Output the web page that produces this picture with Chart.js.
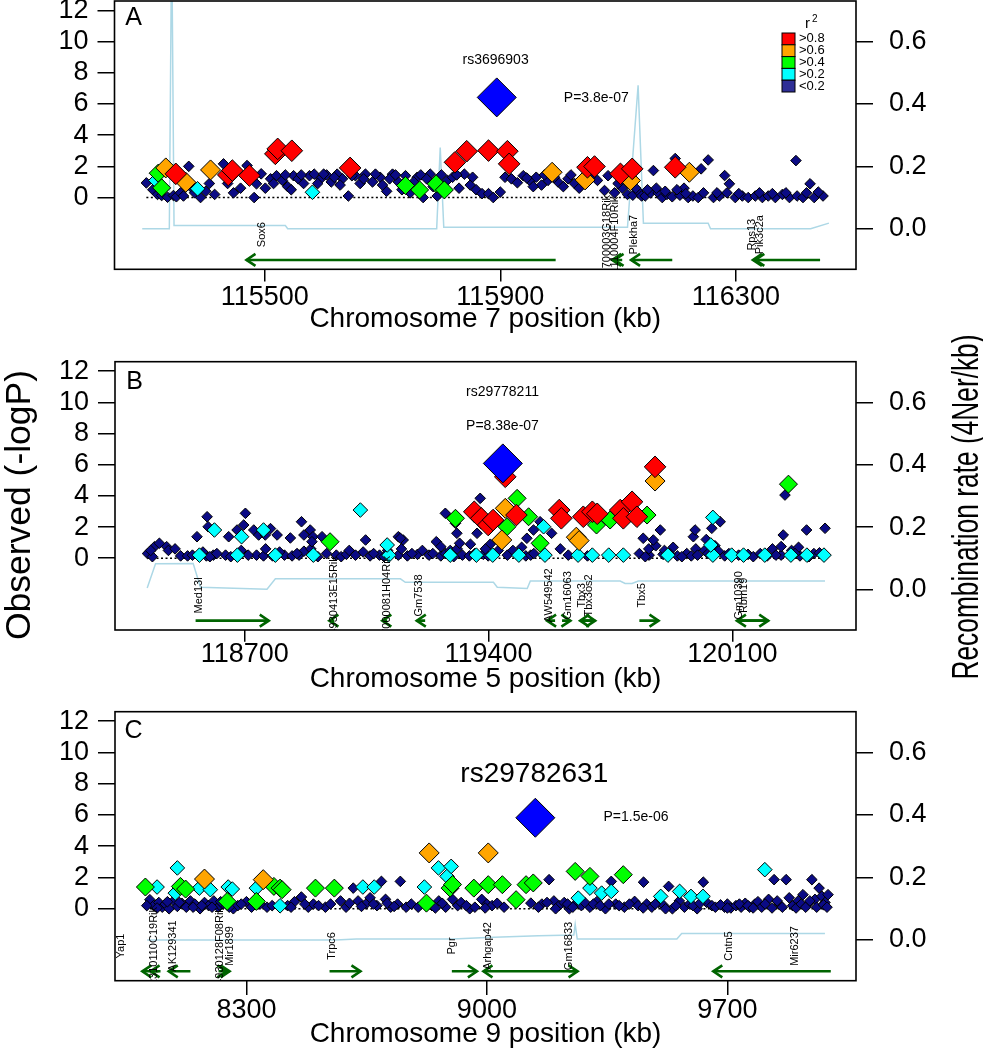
<!DOCTYPE html>
<html><head><meta charset="utf-8">
<script src="https://cdn.jsdelivr.net/npm/chart.js@4.4.1/dist/chart.umd.min.js"></script>
<style>
html,body{margin:0;padding:0;background:#fff;}
#fig{position:relative;width:983px;height:1050px;overflow:hidden;background:#fff;}
#fig canvas{position:absolute;left:0;}
</style></head><body><div id="fig">
<canvas id="cA" width="983" height="340" style="top:0px;width:983px;height:340px"></canvas>
<canvas id="cB" width="983" height="370" style="top:330px;width:983px;height:370px"></canvas>
<canvas id="cC" width="983" height="355" style="top:695px;width:983px;height:355px"></canvas>
</div>
<script>
const FONT = '"Liberation Sans", Arial, Helvetica, sans-serif';

// ---------- shared tick / legend values ----------
const yTicks = [0, 2, 4, 6, 8, 10, 12];
const recTicks = [0, 0.2, 0.4, 0.6];
const ldLabels = ['>0.8', '>0.6', '>0.4', '>0.2', '<0.2'];

// ---------- Panel A : Chromosome 7 ----------
const A_xTicks = [115500, 115900, 116300];
const A_lead = [115894, 6.42];
const A_lt02 = [[115299,0.94],[115310,0.5],[115318,0.2],[115325,0.13],[115330,0.6],[115335,0.02],[115345,0.13],[115350,0.05],[115357,0.3],[115362,0.1],[115371,2.0],[115374,0.7],[115381,0.3],[115391,0.0],[115400,0.4],[115406,0.9],[115415,0.2],[115430,2.16],[115437,0.9],[115447,0.3],[115459,0.6],[115470,2.05],[115482,0.0],[115486,0.88],[115494,1.52],[115501,0.6],[115510,1.2],[115520,1.4],[115530,1.1],[115539,0.7],[115549,1.4],[115557,1.2],[115566,0.9],[115576,1.4],[115584,1.5],[115595,1.2],[115605,1.45],[115613,1.0],[115623,1.5],[115632,1.2],[115642,0.1],[115654,1.4],[115662,0.9],[115671,1.5],[115683,1.0],[115696,1.3],[115707,0.4],[115717,1.5],[115727,1.0],[115739,1.4],[115747,0.3],[115759,1.3],[115769,0.0],[115781,1.5],[115793,0.1],[115810,1.1],[115819,1.3],[115830,0.6],[115839,1.5],[115849,0.8],[115859,0.5],[115869,0.25],[115880,0.25],[115888,0.0],[115900,0.35],[115908,1.3],[115919,1.2],[115929,0.95],[115939,1.4],[115951,1.05],[115961,1.3],[115970,0.8],[115981,1.1],[115998,1.0],[116007,0.7],[116015,1.2],[116026,0.9],[116034,0.6],[116053,1.3],[116077,0.45],[116083,1.4],[116094,0.3],[116107,0.6],[116116,0.2],[116125,0.15],[116134,0.4],[116140,0.1],[116146,0.1],[116155,0.3],[116160,1.73],[116168,0.3],[116175,0.0],[116183,0.2],[116192,0.05],[116197,2.5],[116205,0.15],[116212,0.6],[116219,0.0],[116227,0.1],[116236,0.0],[116241,1.84],[116253,2.41],[116262,0.0],[116272,0.1],[116281,1.41],[116289,0.88],[116299,0.0],[116311,0.1],[116321,0.0],[116333,0.1],[116345,0.0],[116355,0.1],[116367,0.0],[116379,0.2],[116391,0.0],[116402,2.37],[116404,0.1],[116414,0.0],[116426,0.88],[116433,0.0],[116448,0.1],
 [115515,0.9],[115535,1.45],[115545,0.5],[115562,1.45],[115590,0.9],[115600,1.5],[115618,1.3],[115628,0.8],[115648,1.4],[115668,1.2],[115688,1.5],[115700,0.8],[115712,1.2],[115722,1.45],[115733,0.5],[115753,1.0],[115765,1.45],[115775,1.2],[115786,0.7],[115800,1.45],[115826,1.45],[115853,1.3],[115945,1.25],[115956,0.7],[115975,1.45],[115992,1.3],[116020,1.45],[116040,1.0],[116065,1.1],[116100,0.9],[116130,0.6],[116150,0.5],[116165,0.6],[116180,0.4],[116200,0.5],[116215,0.25],[116245,0.3],[116268,0.3],[116285,0.3],[116305,0.25],[116340,0.3],[116362,0.25],[116385,0.3],[116420,0.3],[116440,0.35]];
const A_02 = [[115315,1.09],[115386,0.56],[115581,0.34]];
const A_04 = [[115319,1.56],[115325,0.62],[115739,0.77],[115763,0.49],[115791,0.88],[115805,0.49]];
const A_06 = [[115332,1.9],[115366,0.98],[115408,1.77],[115988,1.62],[116044,1.13],[116121,1.09],[116221,1.62]];
const A_08 = [[115349,1.52],[115438,1.45],[115445,1.73],[115474,1.41],[115518,2.8],[115522,3.12],[115546,3.0],[115645,1.9],[115823,2.26],[115843,2.97],[115880,3.01],[115912,2.97],[115915,2.16],[116048,1.94],[116060,1.99],[116104,1.52],[116124,1.84],[116197,1.94]];
const A_recPos  = [115292,115338,115342,115346,115535,115539,115792,115798,115804,116116,116134,116143,116253,116257,116427,116458];
const A_recRate = [0.0,0.0,0.95,0.01,0.01,0.0,0.0,0.26,0.005,0.005,0.46,0.018,0.018,0.0,0.0,0.018];
const A_geneName   = ['Sox6','1700003G18Rik','1110004F10Rik','Plekha7','Rps13','Pik3c2a'];
const A_geneStart  = [115469,116090,116094,116122,116329,116333];
const A_geneEnd    = [115994,116100,116107,116192,116338,116443];
const A_geneStrand = [-1,-1,-1,-1,-1,-1];
const A_geneLabel  = [115496,116081,116095,116127,116328,116341];
const A_annotText = ['rs3696903','P=3.8e-07'];
const A_annotX = [115892,116063];
const A_annotY = [8.83,6.39];

// ---------- Panel B : Chromosome 5 ----------
const B_xTicks = [118700, 119400, 120100];
const B_lead = [119441, 6.08];
const B_lt02 = [[118421,0.3],[118435,0.1],[118441,0.74],[118455,0.96],[118476,0.74],[118481,0.5],[118516,0.15],[118536,0.15],[118550,0.2],[118590,0.15],[118610,0.2],[118645,0.2],[118734,0.2],[118754,0.15],[118814,0.2],[118836,0.15],[118856,0.2],[118963,0.2],[118977,0.1],[118992,0.25],[119018,0.2],[119060,0.15],[119087,0.2],[119141,0.2],[119167,0.15],[119196,0.25],[119229,0.2],[119263,0.15],[119276,0.3],[119325,0.2],[119345,0.15],[119385,0.25],[119399,0.15],[119454,0.2],[119507,0.15],[119521,0.2],[119629,0.2],[119684,0.15],[119833,0.3],[119861,0.2],[119901,0.25],[119942,0.15],[119969,0.3],[119982,0.15],[120078,0.15],[120118,0.2],[120145,0.25],[120200,0.15],[120240,0.2],[120294,0.15],[120334,0.3],[120363,0.2],
 [118500,0.6],[118580,0.4],[118690,0.5],[118760,0.6],[118800,0.4],[118870,0.45],[118890,0.6],[119000,0.5],[119040,0.4],[119110,0.5],[119150,0.6],[119210,0.5],[119250,1.06],[119263,0.74],[119290,0.5],[119310,0.6],[119317,0.96],[119470,0.5],[119495,0.7],[119540,0.9],[119860,0.6],[119880,0.8],[119905,0.5],[119930,0.7],[119995,0.6],[120020,0.5],[120050,0.8],[120060,0.45],[120215,0.6],[120240,0.75],[120270,0.5],[120290,0.7],[119405,0.9],[119428,0.5],[119348,0.9],[119391,0.6],[119606,0.6],
 [118563,1.38],[118592,2.66],[118595,2.02],[118654,1.38],[118678,1.81],[118702,2.88],[118697,2.13],[118726,1.81],[118740,1.49],[118759,1.49],[118774,1.9],[118793,1.49],[118831,1.3],[118863,2.34],[118870,1.49],[118888,1.81],[118896,1.38],[118893,1.06],[118922,1.38],[119047,1.17],[119141,1.38],[119155,1.17],[119147,1.28],[119276,2.88],[119305,2.24],[119309,1.6],[119367,1.6],[119376,3.84],[119510,1.28],[119529,1.81],[119548,2.34],[119581,1.6],[119844,1.28],[119873,1.17],[119893,1.81],[119988,1.38],[119993,1.81],[120025,1.2],[120041,1.92],[120065,2.34],[120246,1.49],[120251,4.05],[120313,1.81],[120366,1.92],
 [118430,0.5],[118600,0.1],[118620,0.3],[118660,0.1],[118710,0.2],[118780,0.15],[118850,0.3],[118910,0.1],[118935,0.3],[119070,0.3],[119100,0.1],[119180,0.3],[119240,0.3],[119300,0.1],[119360,0.3],[119530,0.3],[119850,0.1],[119920,0.3],[119955,0.1],[120000,0.2],[120030,0.3],[120090,0.3],[120160,0.1],[120180,0.3],[120225,0.2],[120280,0.3],[120320,0.1],[120350,0.35]];
const B_02 = [[118570,0.2],[118679,0.2],[118788,0.2],[118897,0.2],[119114,0.2],[119290,0.2],[119365,0.2],[119412,0.2],[119487,0.2],[119562,0.2],[119657,0.2],[119698,0.2],[119745,0.2],[119787,0.2],[119915,0.2],[120044,0.2],[120098,0.2],[120132,0.2],[120193,0.2],[120268,0.2],[120314,0.2],[120363,0.2],[118613,1.81],[118691,1.38],[118754,1.81],[119032,3.09],[119109,0.85],[119558,2.02],[120044,2.62],[120038,0.85]];
const B_04 = [[118945,1.06],[119305,2.56],[119453,2.02],[119482,3.84],[119515,2.66],[119548,0.96],[119710,2.13],[119749,2.45],[119855,2.77],[120261,4.75]];
const B_06 = [[119438,1.17],[119448,3.2],[119652,1.35],[119660,1.13],[119878,4.95]];
const B_08 = [[119359,2.98],[119379,2.56],[119399,2.13],[119413,2.45],[119448,5.22],[119480,2.77],[119603,3.09],[119609,2.56],[119672,2.66],[119698,2.98],[119712,2.85],[119778,3.09],[119787,2.56],[119812,3.62],[119826,2.66],[119878,5.86]];
const B_recPos  = [118420,118444,118552,118573,118764,118788,119147,119161,119414,119425,119511,119520,119778,119792,119812,119830,120366];
const B_recRate = [0.005,0.082,0.083,0.007,0.001,0.034,0.034,0.023,0.023,0.007,0.003,0.027,0.027,0.019,0.019,0.027,0.027];
const B_geneName   = ['Med13l','4930413E15Rik','7000081H04Rik','Gm7538','AW549542','Gm16063','Tbx3','Tbx3os2','Tbx5','Gm10390','Rbm19'];
const B_geneStart  = [118559,118943,119095,119194,119568,119611,119663,119663,119833,120113,120113];
const B_geneEnd    = [118769,118957,119109,119218,119591,119635,119706,119706,119888,120203,120203];
const B_geneStrand = [1,-1,-1,-1,-1,1,-1,1,1,-1,1];
const B_geneLabel  = [118570,118955,119108,119199,119574,119629,119668,119687,119840,120120,120132];
const B_annotText = ['rs29778211','P=8.38e-07'];
const B_annotX = [119440,119440];
const B_annotY = [10.68,8.5];

// ---------- Panel C : Chromosome 9 ----------
const C_xTicks = [8300, 9000, 9700];
const C_lead = [9141, 5.82];
const C_lt02 = [[8019,0.58],[8030,0.2],[8045,0.4],[8055,0.1],[8064,0.3],[8075,0.0],[8088,0.5],[8099,0.15],[8112,0.35],[8125,0.1],[8137,0.5],[8150,0.3],[8165,0.0],[8178,0.4],[8190,0.2],[8205,0.5],[8218,0.1],[8232,0.3],[8262,0.0],[8275,0.2],[8300,0.45],[8360,0.1],[8420,0.2],[8440,0.45],[8460,0.75],[8480,0.1],[8495,0.3],[8530,0.1],[8574,0.5],[8611,1.32],[8625,0.5],[8648,0.3],[8660,0.7],[8680,0.2],[8693,1.75],[8705,0.6],[8720,0.1],[8740,0.3],[8748,1.75],[8765,0.1],[8840,0.2],[8860,0.5],[8880,0.1],[8900,0.6],[8915,0.2],[8950,0.0],[8985,0.6],[9000,0.3],[9015,0.2],[9128,0.36],[9160,0.3],[9181,1.86],[9195,0.5],[9210,0.2],[9225,0.4],[9240,0.0],[9258,0.3],[9275,0.2],[9300,0.1],[9320,0.45],[9345,0.0],[9362,1.75],[9375,0.3],[9400,0.1],[9430,0.47],[9456,1.7],[9465,0.3],[9480,0.1],[9500,0.4],[9515,0.2],[9529,1.43],[9540,0.0],[9560,0.5],[9575,0.1],[9590,0.3],[9612,0.0],[9630,1.7],[9640,0.4],[9655,0.2],[9692,0.1],[9700,0.3],[9710,0.05],[9725,0.2],[9740,0.1],[9752,0.35],[9765,0.1],[9780,0.3],[9789,0.45],[9800,0.1],[9820,0.6],[9836,1.86],[9850,0.3],[9871,1.86],[9880,0.7],[9890,0.2],[9906,0.5],[9920,0.9],[9935,0.3],[9946,1.86],[9955,0.6],[9967,1.32],[9975,0.8],[9984,0.4],[9993,0.9],
 [8010,0.2],[8040,0.05],[8070,0.45],[8105,0.4],[8145,0.1],[8170,0.2],[8200,0.1],[8225,0.45],[8250,0.1],[8285,0.3],[8315,0.1],[8340,0.3],[8375,0.2],[8430,0.1],[8470,0.3],[8510,0.2],[8545,0.3],[8590,0.1],[8600,0.35],[8635,0.15],[8670,0.3],[8710,0.35],[8730,0.15],[8780,0.3],[8800,0.1],[8850,0.05],[8870,0.35],[8925,0.4],[8940,0.2],[8965,0.1],[8995,0.05],[9030,0.35],[9050,0.1],[9150,0.1],[9175,0.4],[9200,0.0],[9235,0.3],[9250,0.1],[9285,0.4],[9310,0.3],[9330,0.2],[9355,0.3],[9385,0.2],[9415,0.3],[9440,0.2],[9455,0.05],[9490,0.3],[9520,0.0],[9550,0.2],[9600,0.2],[9620,0.35],[9665,0.1],[9680,0.25],[9700,0.05],[9735,0.3],[9760,0.2],[9775,0.05],[9810,0.3],[9830,0.05],[9845,0.5],[9860,0.1],[9900,0.05],[9915,0.3],[9928,0.1],[9940,0.5],[9960,0.1],[9980,0.25],[9990,0.1]];
const C_02 = [[8040,1.39],[8093,1.0],[8099,2.61],[8163,1.32],[8195,1.22],[8247,1.39],[8259,1.26],[8329,1.32],[8398,0.19],[8639,1.39],[8672,1.39],[8818,1.39],[8859,2.61],[8884,2.07],[8896,2.71],[9266,0.68],[9300,1.32],[9334,1.0],[9362,1.11],[9506,0.79],[9561,1.11],[9594,0.79],[9629,0.79],[9809,2.5]];
const C_04 = [[8006,1.39],[8108,1.43],[8123,1.26],[8244,0.47],[8329,0.47],[8380,1.43],[8398,1.32],[8404,1.22],[8501,1.32],[8556,1.32],[8824,0.36],[8893,1.32],[8900,1.55],[8962,1.32],[9004,1.54],[9045,1.54],[9085,0.58],[9114,1.54],[9135,1.65],[9257,2.39],[9300,2.07],[9397,2.18]];
const C_06 = [[8178,1.9],[8349,1.86],[8832,3.57],[9004,3.57]];
const C_08 = [];
const C_recPos  = [8011,8560,8620,8900,9000,9150,9253,9257,9263,9553,9567,9984];
const C_recRate = [0.0,0.0,0.003,0.003,0.008,0.014,0.016,0.05,0.003,0.003,0.021,0.021];
const C_geneName   = ['Yap1','2310110C19Rik','AK129341','4930128F08Rik','Mir1899','Trpc6','Pgr','Arhgap42','Gm16833','Cntn5','Mir6237'];
const C_geneStart  = [7997,8021,8074,8219,8239,8542,8898,8990,9238,9659,9897];
const C_geneEnd    = [8044,8050,8137,8242,8251,8632,8971,9263,9264,10001,9897];
const C_geneStrand = [-1,-1,-1,1,1,1,1,-1,1,-1,-1];
const C_geneLabel  = [7936,8030,8087,8224,8251,8549,8898,9003,9238,9706,9897];
const C_annotText = ['rs29782631','P=1.5e-06'];
const C_annotX = [9138,9434];
const C_annotY = [8.59,5.85];

// ---------- styles / layout ----------
const CLASS_STYLE = {
  lt02: {bg:'#0B0B85', r:5.3, order:6},
  c02:  {bg:'#00FFFF', r:7.3, order:5},
  c04:  {bg:'#00FF00', r:9,   order:4},
  c06:  {bg:'#FFA500', r:10,  order:3},
  c08:  {bg:'#FF0000', r:10.8,order:2}
};
const LEGEND_COLORS = ['#FF0000','#FFA500','#00FF00','#00FFFF','#2E2E96'];
const LEAD_STYLE = {bg:'#0000FF', r:19.5};
const GENE_Y = -4, LABEL_Y = -2.38;
const Y_MIN = -4.6, Y_MAX = 12.6, R_MIN = -0.13, R_MAX = 0.73;

function toXY(arr){ return arr.map(p => ({x:p[0], y:p[1]})); }

function drawVText(ctx, text, cx, cy, size, len){
  ctx.save();
  ctx.translate(cx, cy); ctx.rotate(-Math.PI/2);
  ctx.font = size + 'px ' + FONT;
  const w = ctx.measureText(text).width;
  ctx.scale(len / w, 1);
  ctx.fillStyle = '#000'; ctx.textAlign = 'center'; ctx.textBaseline = 'middle';
  ctx.fillText(text, 0, 0);
  ctx.restore();
}

function drawLegend(ctx, a){
  const sx = a.right - 74, sy0 = a.top + 32, w = 13, h = 11.8;
  ctx.save();
  ctx.fillStyle = '#000'; ctx.textAlign = 'left'; ctx.textBaseline = 'alphabetic';
  ctx.font = '15px ' + FONT; ctx.fillText('r', sx + 23, a.top + 27);
  ctx.font = '10px ' + FONT; ctx.fillText('2', sx + 30, a.top + 21);
  ctx.lineWidth = 1; ctx.strokeStyle = '#000';
  ctx.font = '13px ' + FONT; ctx.textBaseline = 'middle';
  ldLabels.forEach((lab, i) => {
    ctx.fillStyle = LEGEND_COLORS[i];
    ctx.fillRect(sx, sy0 + i*h, w, h);
    ctx.strokeRect(sx, sy0 + i*h, w, h);
    ctx.fillStyle = '#000';
    ctx.fillText(lab, sx + 17, sy0 + i*h + h/2);
  });
  ctx.restore();
}

function makeDecor(P){
  return {
    id: 'decor' + P.letter,
    afterDatasetsDraw(chart){
      const {ctx, chartArea:a} = chart; const x = chart.scales.x, y = chart.scales.y;
      ctx.save();
      ctx.beginPath(); ctx.rect(a.left, a.top, a.right - a.left, a.bottom - a.top); ctx.clip();
      const gy = y.getPixelForValue(GENE_Y);
      ctx.strokeStyle = '#006400'; ctx.lineWidth = 2.6; ctx.lineJoin = 'miter';
      P.geneStart.forEach((s, i) => {
        const e = P.geneEnd[i]; if (e === s) return;
        const st = P.geneStrand[i];
        const tip = x.getPixelForValue(st < 0 ? s : e);
        const d = st < 0 ? 1 : -1;
        ctx.beginPath(); ctx.moveTo(tip + d*9, gy - 6); ctx.lineTo(tip, gy); ctx.lineTo(tip + d*9, gy + 6); ctx.stroke();
      });
      ctx.fillStyle = '#000'; ctx.font = '11px ' + FONT; ctx.textAlign = 'center'; ctx.textBaseline = 'middle';
      const ly = y.getPixelForValue(LABEL_Y);
      P.geneName.forEach((n, i) => {
        ctx.save(); ctx.translate(x.getPixelForValue(P.geneLabel[i]), ly); ctx.rotate(-Math.PI/2);
        ctx.fillText(n, 0, 0); ctx.restore();
      });
      ctx.restore();
    },
    afterDraw(chart){
      const {ctx, chartArea:a} = chart; const x = chart.scales.x, y = chart.scales.y;
      ctx.save();
      ctx.strokeStyle = '#000'; ctx.lineWidth = 1.6;
      ctx.strokeRect(a.left, a.top, a.right - a.left, a.bottom - a.top);
      ctx.fillStyle = '#000'; ctx.textAlign = 'center'; ctx.textBaseline = 'middle';
      ctx.font = '25px ' + FONT; ctx.fillText(P.letter, a.left + P.letterDx, a.top + P.letterDy);
      P.annotText.forEach((t, i) => {
        ctx.font = P.annotSize[i] + 'px ' + FONT;
        ctx.fillText(t, x.getPixelForValue(P.annotX[i]), y.getPixelForValue(P.annotY[i]));
      });
      if (P.legend) drawLegend(ctx, a);
      if (P.yTitles) {
        drawVText(ctx, 'Observed (-logP)', 20.5, 505 - P.canvasTop, 35, 270);
        drawVText(ctx, 'Recombination rate (4Ner/kb)', 968, 507 - P.canvasTop, 37, 345);
      }
      ctx.restore();
    }
  };
}

function makeChart(P){
  const ds = [];
  const classes = [['lt02', P.lt02], ['c02', P.c02], ['c04', P.c04], ['c06', P.c06], ['c08', P.c08]];
  const allX = [P.lead[0]];
  classes.forEach(([k, arr]) => {
    arr.forEach(p => allX.push(p[0]));
    const s = CLASS_STYLE[k];
    ds.push({type:'scatter', data: toXY(arr), yAxisID:'y', order: s.order,
      pointStyle:'rectRot', pointRadius: s.r, pointHoverRadius: s.r,
      pointBackgroundColor: s.bg, pointBorderColor:'#000', pointBorderWidth:1, pointHoverBorderWidth:1});
  });
  ds.push({type:'scatter', data: toXY([P.lead]), yAxisID:'y', order:1,
    pointStyle:'rectRot', pointRadius: LEAD_STYLE.r, pointHoverRadius: LEAD_STYLE.r,
    pointBackgroundColor: LEAD_STYLE.bg, pointBorderColor:'#000', pointBorderWidth:1});
  const xmin = Math.min(...allX), xmax = Math.max(...allX);
  ds.push({type:'line', data:[{x:xmin, y:0}, {x:xmax, y:0}], yAxisID:'y', order:8,
    borderColor:'#000', borderWidth:1.4, borderDash:[2, 2.5], pointRadius:0, fill:false, tension:0});
  ds.push({type:'line', data: P.recPos.map((v, i) => ({x:v, y:P.recRate[i]})), yAxisID:'y2', order:9,
    borderColor:'#ADD8E6', borderWidth:1.5, pointRadius:0, fill:false, tension:0});
  P.geneStart.forEach((s, i) => {
    if (P.geneEnd[i] === s) return;
    ds.push({type:'line', data:[{x:s, y:GENE_Y}, {x:P.geneEnd[i], y:GENE_Y}], yAxisID:'y', order:7,
      borderColor:'#006400', borderWidth:2.6, pointRadius:0, fill:false, tension:0});
  });

  const tickFont = {family: FONT, size: 27, lineHeight: 1};
  return new Chart(document.getElementById(P.id), {
    type: 'scatter',
    data: {datasets: ds},
    plugins: [makeDecor(P)],
    options: {
      responsive:false, animation:false, events:[], devicePixelRatio:1,
      layout: {autoPadding:false, padding: {top: P.padTop, left: 0, right: 0, bottom: 0}},
      plugins: {legend:{display:false}, tooltip:{enabled:false}},
      scales: {
        x: {type:'linear', position:'bottom', min:P.xMin, max:P.xMax,
          afterBuildTicks: s => { s.ticks = P.xTicks.map(v => ({value:v})); },
          afterFit: s => { s.height = P.xAxisH; s.paddingLeft = 0; s.paddingRight = 0; },
          grid: {drawOnChartArea:false, drawTicks:true, tickLength:P.tickLenX, color:'#000', lineWidth:1.5},
          border: {display:false},
          ticks: {color:'#000', font:tickFont, padding:P.xTickPad, maxRotation:0, autoSkip:false, callback: v => String(v)},
          title: {display:true, text:P.xTitle, color:'#000', font:{family:FONT, size:28, lineHeight:1}, padding:{top:0, bottom:P.xTitlePad}}
        },
        y: {type:'linear', position:'left', min:Y_MIN, max:Y_MAX,
          afterBuildTicks: s => { s.ticks = yTicks.map(v => ({value:v})); },
          afterFit: s => { s.width = P.leftW; s.paddingTop = 0; s.paddingBottom = 0; },
          grid: {drawOnChartArea:false, drawTicks:true, tickLength:17, color:'#000', lineWidth:1.5},
          border: {display:false},
          ticks: {color:'#000', font:tickFont, padding:9, autoSkip:false, callback: v => String(v)}
        },
        y2: {type:'linear', position:'right', min:R_MIN, max:R_MAX,
          afterBuildTicks: s => { s.ticks = recTicks.map(v => ({value:v})); },
          afterFit: s => { s.width = 127; s.paddingTop = 0; s.paddingBottom = 0; },
          grid: {drawOnChartArea:false, drawTicks:true, tickLength:17, color:'#000', lineWidth:1.5},
          border: {display:false},
          ticks: {color:'#000', font:tickFont, padding:16, autoSkip:false, callback: v => Number(v).toFixed(1)}
        }
      }
    }
  });
}

makeChart({id:'cA', letter:'A', canvasTop:0, padTop:1, xAxisH:70.7, tickLenX:12.3, xTickPad:2.2, xTitlePad:7, leftW:114.5,
  xMin:115244.9, xMax:116504, xTicks:A_xTicks, xTitle:'Chromosome 7 position (kb)',
  lt02:A_lt02, c02:A_02, c04:A_04, c06:A_06, c08:A_08, lead:A_lead,
  recPos:A_recPos, recRate:A_recRate,
  geneName:A_geneName, geneStart:A_geneStart, geneEnd:A_geneEnd, geneStrand:A_geneStrand, geneLabel:A_geneLabel,
  annotText:A_annotText, annotX:A_annotX, annotY:A_annotY, annotSize:[14,14],
  letterDx:19, letterDy:16.7, legend:true, yTitles:false});

makeChart({id:'cB', letter:'B', canvasTop:330, padTop:31.7, xAxisH:70, tickLenX:11.7, xTickPad:-1, xTitlePad:7, leftW:115,
  xMin:118327.6, xMax:120454.9, xTicks:B_xTicks, xTitle:'Chromosome 5 position (kb)',
  lt02:B_lt02, c02:B_02, c04:B_04, c06:B_06, c08:B_08, lead:B_lead,
  recPos:B_recPos, recRate:B_recRate,
  geneName:B_geneName, geneStart:B_geneStart, geneEnd:B_geneEnd, geneStrand:B_geneStrand, geneLabel:B_geneLabel,
  annotText:B_annotText, annotX:B_annotX, annotY:B_annotY, annotSize:[14,14],
  letterDx:19.5, letterDy:20, legend:false, yTitles:true});

makeChart({id:'cC', letter:'C', canvasTop:695, padTop:16.7, xAxisH:69.3, tickLenX:14.3, xTickPad:2.3, xTitlePad:2, leftW:115,
  xMin:7917.5, xMax:10074.4, xTicks:C_xTicks, xTitle:'Chromosome 9 position (kb)',
  lt02:C_lt02, c02:C_02, c04:C_04, c06:C_06, c08:C_08, lead:C_lead,
  recPos:C_recPos, recRate:C_recRate,
  geneName:C_geneName, geneStart:C_geneStart, geneEnd:C_geneEnd, geneStrand:C_geneStrand, geneLabel:C_geneLabel,
  annotText:C_annotText, annotX:C_annotX, annotY:C_annotY, annotSize:[28,14],
  letterDx:18.5, letterDy:19.3, legend:false, yTitles:false});
</script></body></html>
